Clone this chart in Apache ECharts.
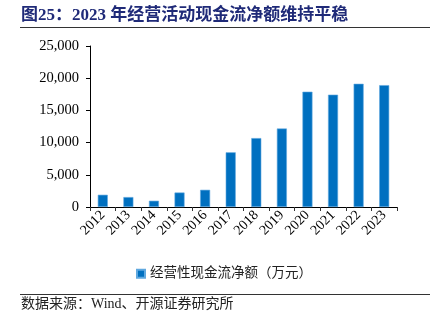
<!DOCTYPE html>
<html>
<head>
<meta charset="utf-8">
<script src="https://cdn.jsdelivr.net/npm/echarts@6/dist/echarts.min.js"></script>
<style>
html,body{margin:0;padding:0;background:#fff;}
#c{width:443px;height:325px;}
</style>
</head>
<body>
<div id="c"></div>
<script>
var categories = ['2012','2013','2014','2015','2016','2017','2018','2019','2020','2021','2022','2023'];
var cashFlow = [1900, 1540, 970, 2250, 2670, 8490, 10700, 12190, 17900, 17440, 19130, 18920];
var seriesName = '经营性现金流净额（万元）';
var titleText = '图25：2023 年经营活动现金流净额维持平稳';
var sourceText = '数据来源：Wind、开源证券研究所';

var chart = echarts.init(document.getElementById('c'), null, {renderer:'canvas'});
var serif = '"Liberation Serif","Times New Roman",serif';
var cjk = '"Liberation Serif","Noto Sans CJK SC",serif';
chart.setOption({
  animation: false,
  backgroundColor: '#fff',
  graphic: [
    {type:'text', left:21, top:7, style:{text:titleText, font:'bold 17px "Liberation Serif","Noto Sans CJK SC",serif', fill:'#1F2A78'}},
    {type:'line', shape:{x1:20,y1:27.5,x2:430,y2:27.5}, style:{stroke:'#333',lineWidth:1}},
    {type:'line', shape:{x1:20,y1:294.5,x2:430,y2:294.5}, style:{stroke:'#333',lineWidth:1}},
    {type:'text', left:21, top:297, style:{text:sourceText, font:'14px "Liberation Serif","Noto Sans CJK SC",serif', fill:'#222'}}
  ],
  legend: {
    data:[seriesName], left:131, top:262, icon:'rect', itemWidth:8, itemHeight:8, itemGap:5,
    textStyle:{fontSize:13.5, fontFamily:cjk, color:'#222'}
  },
  grid: {left:90, right:46, top:46, bottom:118, containLabel:false},
  xAxis: {
    type:'category', data:categories,
    axisLine:{lineStyle:{color:'#000', width:1}},
    axisTick:{show:true, alignWithLabel:false, length:4, lineStyle:{color:'#333'}},
    axisLabel:{interval:0, rotate:45, fontSize:14, fontFamily:serif, color:'#000', margin:6}
  },
  yAxis: {
    type:'value', min:0, max:25000, interval:5000,
    axisLine:{show:true, lineStyle:{color:'#000', width:1}},
    axisTick:{show:true, length:4, lineStyle:{color:'#000'}},
    splitLine:{show:false},
    axisLabel:{fontSize:14.5, fontFamily:serif, color:'#000', margin:11,
      formatter:function(v){return v.toLocaleString('en-US');}}
  },
  series: [{
    name: seriesName, type:'bar', data:cashFlow, barWidth:10,
    itemStyle:{color:'#0070C0', borderColor:'#5FA8DF', borderWidth:0.6}
  }]
});
</script>
</body>
</html>
